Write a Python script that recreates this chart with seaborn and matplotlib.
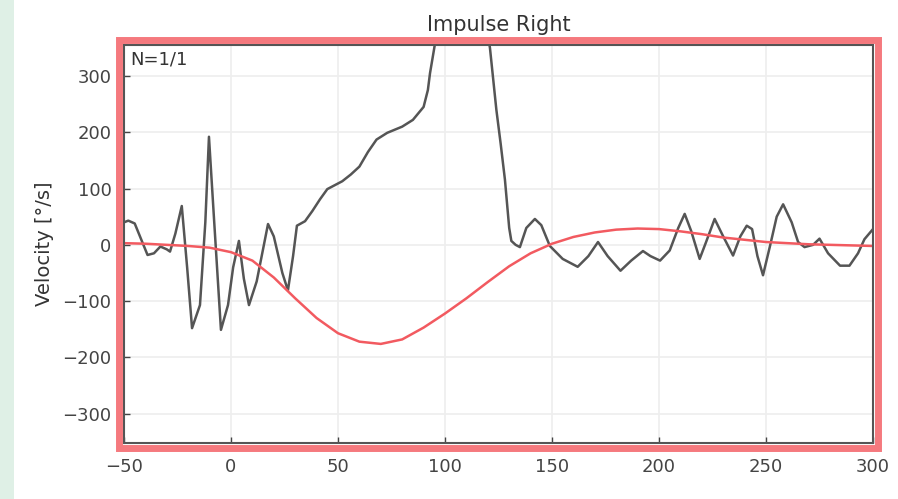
import numpy as np
import pandas as pd
import seaborn as sns
import matplotlib.pyplot as plt
from matplotlib.patches import Rectangle

eye_t = [-50, -48, -45, -42, -39, -36, -33, -30, -28.5, -26, -23, -20.5, -18.2, -14.5,
         -12, -10.3, -8, -4.7, -1.4, 1, 3.7, 6, 8.4, 12, 17.3, 20, 24, 26.6, 29, 30.8,
         34.6, 38, 41.6, 45, 52, 56, 60, 64, 68, 73, 80, 85, 90, 92, 93, 95, 98, 103,
         108, 113, 117, 121, 124, 126, 128, 130, 131, 133, 135, 138, 142, 145, 149, 155,
         162, 167, 171.5, 176, 182, 187, 192.5, 196, 200.5, 205, 209, 212, 215, 219, 222,
         226, 230, 234.6, 238, 241, 243.5, 246, 248.6, 252, 255, 258, 262, 265, 268, 272,
         275, 279, 284.6, 289, 293, 296, 300]
eye_v = [40, 43, 38, 10, -18, -15, -3, -8, -12, 20, 69, -40, -148, -107,
         40, 192, 50, -151, -107, -40, 7, -60, -107, -65, 37, 15, -50, -81, -20, 34,
         42, 60, 81, 99, 113, 125, 139, 165, 187, 199, 210, 222, 245, 275, 305, 350, 420, 500,
         530, 510, 440, 350, 240, 180, 116, 30, 7, 0, -4, 30, 46, 35, -2, -25,
         -39, -20, 5, -20, -46, -28, -11, -20, -28, -10, 30, 55, 25, -25, 5,
         46, 15, -19, 15, 34, 28, -20, -54, 0, 50, 72, 40, 5, -4, 0,
         11, -15, -37, -37, -15, 10, 28]

fit_t = [-50, -40, -30, -20, -10, 0, 10, 20, 30, 40, 50, 60, 70, 80, 90, 100, 110, 120,
         130, 140, 150, 160, 170, 180, 190, 200, 210, 220, 230, 240, 250, 260, 270, 280,
         290, 300]
fit_v = [3, 2, 0, -2, -5, -13, -28, -58, -95, -130, -157, -172, -176, -168, -147, -122,
         -95, -66, -38, -15, 2, 14, 22, 27, 29, 28, 24, 19, 13, 9, 5, 3, 1, 0, -1, -2]

x_ticks = [-50, 0, 50, 100, 150, 200, 250, 300]
y_ticks = [-300, -200, -100, 0, 100, 200, 300]

eye = pd.DataFrame({'t': eye_t, 'v': eye_v})
fit = pd.DataFrame({'t': fit_t, 'v': fit_v})

sns.set_style('whitegrid')
plt.rcParams['font.family'] = ['DejaVu Sans']

fig = plt.figure(figsize=(8.98, 4.99), dpi=100)
ax = fig.add_axes([124 / 898, 1 - 443 / 499, (873 - 124) / 898, (443 - 45) / 499])

sns.lineplot(data=eye, x='t', y='v', ax=ax, color='#555555', lw=1.8, sort=False,
             estimator=None)
sns.lineplot(data=fit, x='t', y='v', ax=ax, color='#f25a60', lw=1.8, sort=False,
             estimator=None)

ax.set_xlim(-50, 300)
ax.set_ylim(-352, 355)
ax.set_xticks(x_ticks)
ax.set_yticks(y_ticks)
ax.grid(True, color='#eeeeee', lw=1.2)
ax.tick_params(direction='in', length=4, width=1, colors='#444444', labelsize=13,
               pad=9, left=True, bottom=True)
ax.tick_params(axis='x', pad=11)
for s in ax.spines.values():
    s.set_color('#555555')
    s.set_linewidth(1.5)
ax.set_xlabel('')
ax.set_ylabel('Velocity [°/s]', fontsize=14, color='#333333', labelpad=6)
ax.set_title('Impulse Right', fontsize=15, color='#333333', pad=10)
ax.text(0.008, 0.985, 'N=1/1', transform=ax.transAxes, fontsize=13, color='#333333',
        va='top', ha='left')

# highlight frame around the axes and green strip at the left edge
fig.patches.append(Rectangle((119 / 898, 1 - 448 / 499), (878 - 119) / 898, (448 - 40) / 499,
                             transform=fig.transFigure, fill=False, ec='#f5797e', lw=5,
                             zorder=5))
fig.patches.append(Rectangle((0, 0), 14 / 898, 1, transform=fig.transFigure,
                             fc='#dff0e6', ec='none'))

fig.savefig('out.png', dpi=100)
